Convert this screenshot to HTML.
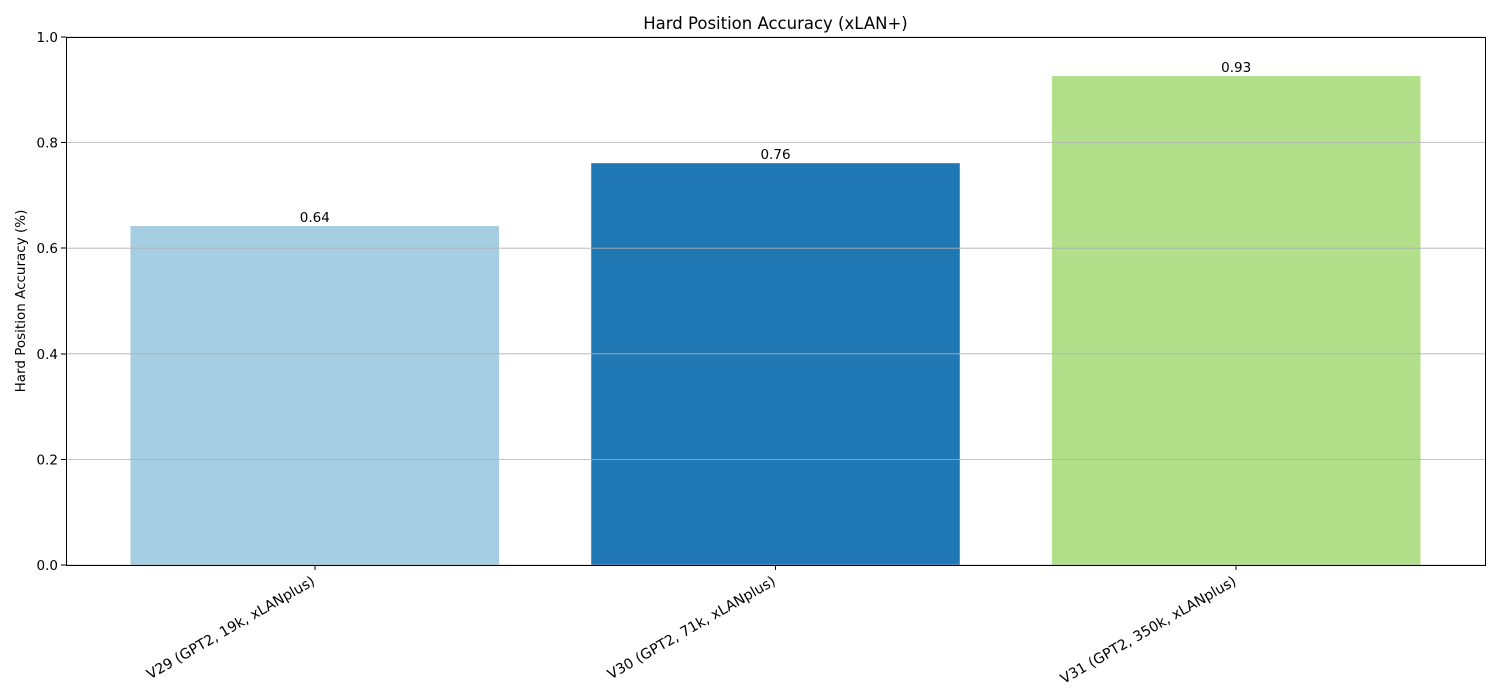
<!DOCTYPE html>
<html><head><meta charset="utf-8"><style>
body{margin:0;background:#fff;}
svg{display:block;font-family:"DejaVu Sans","Liberation Sans",sans-serif;}
</style></head><body>
<svg id="chart" width="1500" height="700">
<text x="775.5" y="29" font-size="16.5" text-anchor="middle">Hard Position Accuracy (xLAN+)</text>
<text transform="translate(25,301) rotate(-90)" font-size="13.5" text-anchor="middle">Hard Position Accuracy (%)</text>
<g id="bars"></g><g id="grid"></g><g id="axes"></g>
</svg>
<script>
const categories=["V29 (GPT2, 19k, xLANplus)","V30 (GPT2, 71k, xLANplus)","V31 (GPT2, 350k, xLANplus)"];
const values=[0.642,0.761,0.926];
const colors=["#a6cee3","#1f78b4","#b2df8a"];
const yTicks=[0,0.2,0.4,0.6,0.8,1.0];
const NS="http://www.w3.org/2000/svg";
const L=66,R=1485,T=37,B=565;
const xMin=-0.54,xMax=categories.length-1+0.54;
const xs=v=>L+(v-xMin)/(xMax-xMin)*(R-L);
const ys=v=>B-v*(B-T);
function mk(tag,attrs,parent){const e=document.createElementNS(NS,tag);for(const k in attrs)e.setAttribute(k,attrs[k]);parent.appendChild(e);return e;}
const grid=document.getElementById('grid'),bars=document.getElementById('bars'),axes=document.getElementById('axes');
values.forEach((v,i)=>{
  const x0=xs(i-0.4),x1=xs(i+0.4);
  const r=mk('rect',{x:x0,y:ys(v),width:x1-x0,height:B-ys(v),fill:colors[i]},bars);
  
  
  const t=mk('text',{x:xs(i),y:ys(v)-4,'font-size':13.5,'text-anchor':'middle'},axes);
  t.textContent=v.toFixed(2);
  
  
  mk('line',{x1:xs(i),x2:xs(i),y1:B,y2:B+5,stroke:'#000','shape-rendering':'crispEdges'},axes);
  const lt=mk('text',{transform:`translate(${xs(i)+1},${B+19}) rotate(-30)`,'font-size':14.2,'text-anchor':'end'},axes);
  lt.textContent=categories[i];
  
  
});
yTicks.forEach(v=>{
  const g=mk('line',{x1:L,x2:R,y1:ys(v),y2:ys(v),stroke:'#b0b0b0','stroke-width':0.8},grid);
  
  
  mk('line',{x1:L-5,x2:L,y1:ys(v),y2:ys(v),stroke:'#000','shape-rendering':'crispEdges'},axes);
  const t=mk('text',{x:L-8,y:ys(v)+5,'font-size':13.5,'text-anchor':'end'},axes);
  t.textContent=v.toFixed(1);
  
  
});
const f=mk('rect',{x:L+0.5,y:T+0.5,width:R-L,height:B-T,fill:'none',stroke:'#000','stroke-width':1},axes);


</script>
</body></html>
